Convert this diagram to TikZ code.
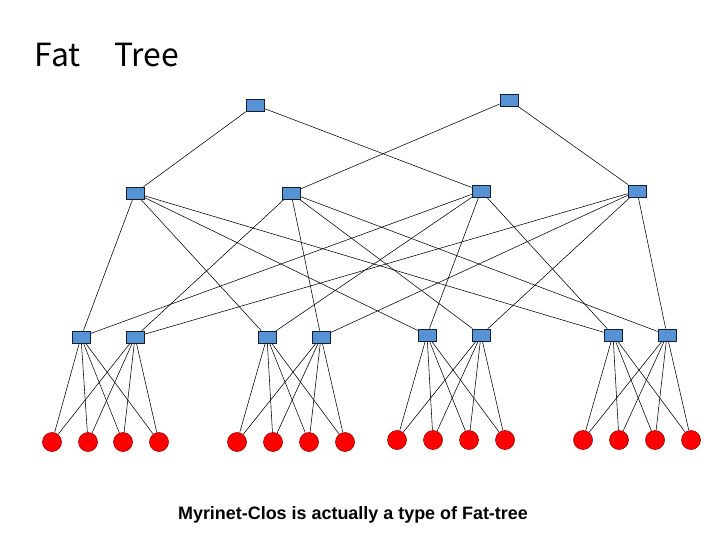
\documentclass[tikz,border=0pt]{standalone}
\usepackage{fontspec}
\setmainfont{Liberation Sans}
\newfontfamily\cjk{Noto Sans CJK JP}
\usetikzlibrary{backgrounds}
\definecolor{swblue}{RGB}{86,146,212}
\definecolor{swedge}{RGB}{20,30,50}
\definecolor{hostedge}{RGB}{150,0,0}
\begin{document}
\begin{tikzpicture}[x=1bp,y=-1bp,
  sw/.style={draw=swedge, fill=swblue, minimum width=18bp, minimum height=12bp, inner sep=0pt, line width=0.7bp},
  host/.style={circle, draw=hostedge, fill=red, minimum size=19bp, inner sep=0pt, line width=0.6bp},
  link/.style={line width=0.55bp, draw=black}]
\useasboundingbox (0,0) rectangle (720,540);
% title and caption
\node[anchor=base west, inner sep=0pt, font=\cjk\fontsize{32}{36}\selectfont] (title) at (34.5,67) {Fat　\kern 2bp Tree};
\node[anchor=base, inner sep=0pt, font=\bfseries\fontsize{18}{21}\selectfont] (caption) at (353,519.5) {Myrinet-Clos is actually a type of Fat-tree};
% top switches
\node[sw] (T1) at (255,105) {};
\node[sw] (T2) at (509,100) {};
% middle switches
\node[sw] (M1) at (135,193) {};
\node[sw] (M2) at (291,193) {};
\node[sw] (M3) at (481,191) {};
\node[sw] (M4) at (637,191) {};
% edge switches
\node[sw] (B1) at (81,337) {};
\node[sw] (B2) at (135,337) {};
\node[sw] (B3) at (267,337) {};
\node[sw] (B4) at (321,337) {};
\node[sw] (B5) at (427,335) {};
\node[sw] (B6) at (481,335) {};
\node[sw] (B7) at (613,335) {};
\node[sw] (B8) at (667,335) {};
% hosts
\node[host] (H11) at (52,442) {};
\node[host] (H12) at (88,442) {};
\node[host] (H13) at (123,442) {};
\node[host] (H14) at (159,442) {};
\node[host] (H21) at (237,442) {};
\node[host] (H22) at (273,442) {};
\node[host] (H23) at (309,442) {};
\node[host] (H24) at (345,442) {};
\node[host] (H31) at (397,440) {};
\node[host] (H32) at (433,440) {};
\node[host] (H33) at (469,440) {};
\node[host] (H34) at (505,440) {};
\node[host] (H41) at (583,440) {};
\node[host] (H42) at (619,440) {};
\node[host] (H43) at (655,440) {};
\node[host] (H44) at (691,440) {};
\begin{scope}[on background layer]
  \draw[link] (T1) -- (M1);
  \draw[link] (T1) -- (M3);
  \draw[link] (T2) -- (M2);
  \draw[link] (T2) -- (M4);
  \foreach \m in {M1,M3} {
    \foreach \b in {B1,B3,B5,B7} { \draw[link] (\m) -- (\b); }
  }
  \foreach \m in {M2,M4} {
    \foreach \b in {B2,B4,B6,B8} { \draw[link] (\m) -- (\b); }
  }
  \foreach \g/\sa/\sb in {1/B1/B2, 2/B3/B4, 3/B5/B6, 4/B7/B8} {
    \foreach \h in {1,2,3,4} {
      \draw[link] (\sa) -- (H\g\h);
      \draw[link] (\sb) -- (H\g\h);
    }
  }
\end{scope}
\end{tikzpicture}
\end{document}
